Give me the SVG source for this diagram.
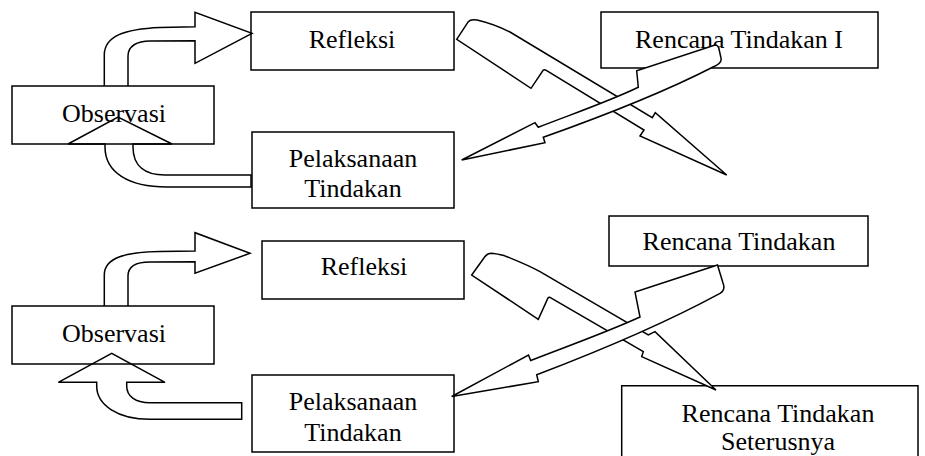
<svg xmlns="http://www.w3.org/2000/svg" width="925" height="456" viewBox="0 0 925 456">
<style>
.box{fill:#fff;stroke:#000;stroke-width:1.5}
.t{font-family:"Liberation Serif","Times New Roman",serif;font-size:26px;fill:#000;text-anchor:middle}
.bent{fill:none;stroke:#000;stroke-width:1.5;stroke-linejoin:miter}
.bolt{fill:#fff;stroke:#000;stroke-width:1.5;stroke-linejoin:miter}
</style>
<rect width="925" height="456" fill="#fff"/>
<g id="observasi1"><rect class="box" x="12" y="86" width="202" height="58"/><text class="t" x="114" y="122">Observasi</text></g>
<g id="refleksi1"><rect class="box" x="251" y="12" width="203" height="58"/><text class="t" x="352" y="48">Refleksi</text></g>
<g id="pelaksanaan1"><rect class="box" x="252" y="132" width="202" height="76"/><text class="t" x="353" y="167">Pelaksanaan</text><text class="t" x="353" y="197">Tindakan</text></g>
<g id="rencana1"><rect class="box" x="601" y="12" width="277" height="56"/><text class="t" x="739" y="48">Rencana Tindakan I</text></g>
<g id="observasi2"><rect class="box" x="12" y="306" width="202" height="58"/><text class="t" x="114" y="342">Observasi</text></g>
<g id="refleksi2"><rect class="box" x="262" y="241" width="202" height="58"/><text class="t" x="364" y="275">Refleksi</text></g>
<g id="pelaksanaan2"><rect class="box" x="252" y="375" width="202" height="77"/><text class="t" x="353" y="410">Pelaksanaan</text><text class="t" x="353" y="441">Tindakan</text></g>
<g id="rencana2"><rect class="box" x="609" y="216" width="259" height="50"/><text class="t" x="739" y="250">Rencana Tindakan</text></g>
<g id="rencana3"><path class="box" d="M621.7,470 V385.7 H918 V470" fill="#fff"/><text class="t" x="778" y="422">Rencana Tindakan</text><text class="t" x="778" y="450">Seterusnya</text></g>
<g id="connectors">
<path class="bent" d="M104.3,86 V55 C104.3,36 125,29 160,27.5 L195,26.7 V12.3 L252,33.3 L195,63.3 V40.7 L150,41 C137,41 128,46 128,56 V86"/>
<path class="bent" d="M68,144 L118,117 L172,144 H133 V147 C133,166 145,175 165,175 H251 V187 H167 C128,187 105,172 105,147 V144 Z"/>
<path class="bent" d="M104.3,306 V275 C104.3,258 125,252 160,251.5 L195,251 V232.7 L250,253.3 L195,273.3 V261.7 L150,262 C136,262 128,266 128,276 V306"/>
<path class="bent" d="M58.3,382.3 L111.7,353.3 L165,382.3 H126.7 V386 C126.7,396 135,402.7 150,402.7 H241.7 V419.3 H150 C118,419.3 96.7,405 96.7,386 V382.3 Z"/>
<path class="bolt" d="M456.7,39.3 L468.3,21.7 C470,19.5 473,19.3 477,20 C490,23 500,27 510,32 L652.3,117.7 L655.3,112.7 L726.7,175 L640,136 L644,130 L546.7,70.7 C545,69.5 544,69.5 543.3,70 L531,88.3 Z"/>
<path class="bolt" d="M461.7,160 L535,122.7 L538.3,127.3 C575,113 610,101 638.3,87.3 L636.7,70.7 L715,45 C717,45 718.5,46.5 719,49 L721,58 C722,62 718,65 713,67 C680,84 620,110 543.3,137.3 L545,142.7 Z"/>
<path class="bolt" d="M471.7,275 L485,256.5 C487,254 489,253.3 491.7,253.3 C498,254 503,255 507,256.7 C520,262 530,266 540,271.7 L648.3,335 L655,331.7 L716,390 L641.7,356.7 L643.3,351.7 L551.7,298.3 C550,297.2 548.5,297.3 548,298 L538.3,319.3 Z"/>
<path class="bolt" d="M451.7,396.5 L528.5,355 L530.7,360.5 C565,347 605,333 640,317 L635,292 L717.5,265 L723,283 C725,288 724,291 720,293.3 C680,315 620,343 536.7,374.7 L538.3,381.7 Z"/>
</g>
</svg>
